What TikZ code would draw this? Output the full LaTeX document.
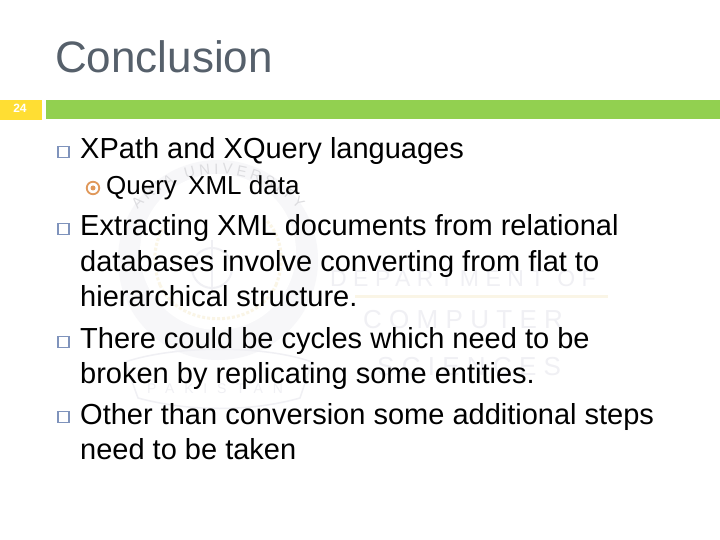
\documentclass[tikz,border=0pt]{standalone}
\usepackage{fontspec}
\usetikzlibrary{decorations.text}
\setmainfont{Liberation Sans}
\newfontfamily\wmfont[LetterSpace=28]{Liberation Sans}
\newfontfamily\wmwide[LetterSpace=70]{Liberation Sans}
\definecolor{titlegray}{HTML}{56606B}
\definecolor{bargreen}{HTML}{92D050}
\definecolor{baryellow}{HTML}{FFDE33}
\definecolor{bulletblue}{HTML}{7F93BC}
\definecolor{bulletorange}{HTML}{E0985A}
\definecolor{wm}{HTML}{F0F0F4}
\definecolor{wmdisc}{HTML}{F7F7F9}
\definecolor{wmgold}{HTML}{FAF5E6}
\tikzset{
  bodyline/.style={anchor=base west,inner sep=0pt,font=\fontsize{29}{29}\selectfont,text=black},
  subline/.style={anchor=base west,inner sep=0pt,font=\fontsize{26}{26}\selectfont,text=black},
  wmline/.style={anchor=base west,inner sep=0pt,text=wm},
  boxbullet/.style={draw=bulletblue,line width=1.9pt,fill=white,minimum size=11pt,inner sep=0pt},
}
\begin{document}
\begin{tikzpicture}[x=1pt,y=-1pt]
\useasboundingbox (0,0) rectangle (720,540);
\fill[white] (0,0) rectangle (720,540);
% watermark seal
\fill[wmdisc] (218,260) circle (100);
\fill[white] (218,252) circle (78);
\draw[wmgold,line width=3pt,dash pattern=on 3pt off 2pt] (160,285) .. controls (180,330) and (256,330) .. (276,285);
\draw[wmgold,line width=3pt,dash pattern=on 3pt off 2pt] (160,285) .. controls (150,260) and (155,235) .. (170,220);
\draw[wmgold,line width=3pt,dash pattern=on 3pt off 2pt] (276,285) .. controls (286,260) and (281,235) .. (266,220);
\draw[wm,line width=2pt] (212,268) circle (20);
\draw[wm,line width=2pt] (212,240) -- (212,292);
\draw[wm,line width=1.5pt] (125,362) .. controls (175,345) and (265,345) .. (312,362) -- (300,398) .. controls (250,412) and (190,412) .. (138,398) -- cycle;
\begin{scope}[shift={(218,282)},y=1pt]
\path[postaction={decorate,decoration={text along path,text align={fit to path},
  text={|\fontsize{15}{15}\selectfont\color{wm!92!black}|ARIA UNIVERSITY}}}]
  (138:108) arc (138:42:108);
\end{scope}
\node[wmline,font=\wmwide\fontsize{14}{14}\selectfont,anchor=base] (pk) at (215,393) {PAKISTAN};
% watermark wording
\node[wmline,font=\wmfont\fontsize{23}{23}\selectfont] (w1) at (330,286) {DEPARTMENT OF};
\node[wmline,font=\wmfont\fontsize{26}{26}\selectfont] (w2) at (363,328) {COMPUTER};
\node[wmline,font=\wmfont\fontsize{26}{26}\selectfont] (w3) at (377,375) {SCIENCES};
\fill[wmgold] (355,295) rectangle (608,298);
% header
\node[anchor=base west,inner sep=0pt,font=\fontsize{44}{44}\selectfont,text=titlegray] (title) at (55,73) {Conclusion};
\fill[baryellow] (0,100) rectangle (42,120);
\fill[bargreen] (46,100) rectangle (720,119);
\node[inner sep=0pt,font=\fontsize{12}{12}\selectfont\bfseries,text=white] (num) at (20,108.5) {24};
% bullets
\node[boxbullet] (b1) at (63.5,152) {};
\node[boxbullet] (b2) at (63.5,229) {};
\node[boxbullet] (b3) at (63.5,342) {};
\node[boxbullet] (b4) at (63.5,417) {};
\node[draw=bulletorange,line width=1.8pt,circle,minimum size=12.5pt,inner sep=0pt] (s1) at (93,188) {};
\fill[bulletorange] (s1.center) circle (2.5);
% text
\node[bodyline] (l1) at (80,158.8) {XPath and XQuery languages};
\node[subline] (l2) at (106,194.8) {Query\hspace{4pt} XML data};
\node[bodyline] (l3) at (80,236) {Extracting XML documents from relational};
\node[bodyline] (l4) at (80,271) {databases involve converting from flat to};
\node[bodyline] (l5) at (80,306) {hierarchical structure.};
\node[bodyline] (l6) at (80,348) {There could be cycles which need to be};
\node[bodyline] (l7) at (80,383) {broken by replicating some entities.};
\node[bodyline] (l8) at (80,424) {Other than conversion some additional steps};
\node[bodyline] (l9) at (80,459) {need to be taken};
\end{tikzpicture}
\end{document}
